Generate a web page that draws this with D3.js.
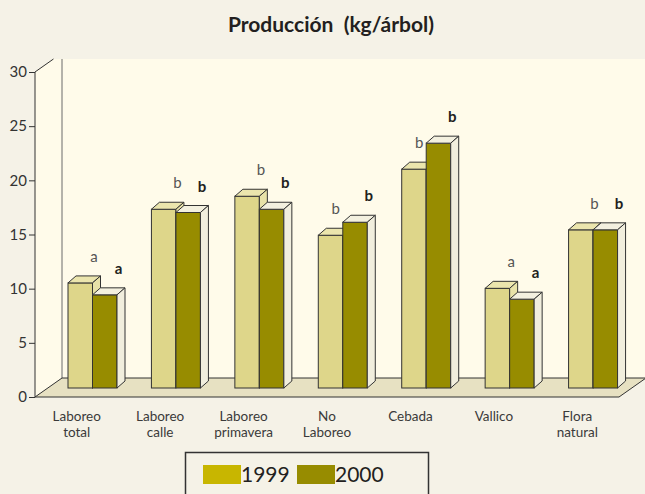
<!DOCTYPE html>
<html>
<head>
<meta charset="utf-8">
<title>Producción (kg/árbol)</title>
<script src="https://d3js.org/d3.v7.min.js"></script>
<style>
  body { margin: 0; background: #f5f2e7; }
  svg { display: block; font-family: Lato, "Open Sans", sans-serif; }
</style>
</head>
<body>
<script>
// chart data
const categories = [["Laboreo", "total"], ["Laboreo", "calle"], ["Laboreo", "primavera"],
                    ["No", "Laboreo"], ["Cebada"], ["Vallico"], ["Flora", "natural"]];
const series = ["1999", "2000"];
const values1999 = [9.7, 16.5, 17.7, 14.1, 20.2, 9.2, 14.6];
const values2000 = [8.6, 16.2, 16.5, 15.3, 22.6, 8.2, 14.6];
const letters1999 = ["a", "b", "b", "b", "b", "a", "b"];
const letters2000 = ["a", "b", "b", "b", "b", "a", "b"];
const yTicks = [0, 5, 10, 15, 20, 25, 30];

const width = 645, height = 494;
const depth = {dx: 27, dy: 19};      // floor depth
const bar = {dx: 8, dy: 7};          // bar top/side depth

const svg = d3.select("body").append("svg")
    .attr("width", width)
    .attr("height", height);

svg.append("rect").attr("width", width).attr("height", height).attr("fill", "#f5f2e7");

// title
svg.append("text")
    .attr("x", 331).attr("y", 32)
    .attr("text-anchor", "middle")
    .style("white-space", "pre")
    .attr("font-size", 21).attr("font-weight", "bold").attr("fill", "#231f20")
    .text("Producción  (kg/árbol)");

const keys = categories.map((c, i) => "c" + i);
const x = d3.scaleBand().domain(keys).range([35, 619]);
const y = d3.scaleLinear().domain([0, 30]).range([397, 72]);
const xs = d3.scaleBand().domain(series).range([0, 49]);

const x0 = x.range()[0], y0 = y(0), yTop = y(30) - 13;
const xTopCorner = x0 + (y(30) - yTop) * depth.dx / depth.dy;

// side wall
svg.append("path")
    .attr("d", `M${x0},${y0}L${x0 + depth.dx},${y0 - depth.dy}L${x0 + depth.dx},${yTop}` +
               `L${xTopCorner},${yTop}L${x0},${y(30)}Z`)
    .attr("fill", "#fffbea");
// back wall
svg.append("rect")
    .attr("x", x0 + depth.dx).attr("y", yTop)
    .attr("width", width - x0 - depth.dx).attr("height", y0 - depth.dy - yTop)
    .attr("fill", "#fffbea");
// floor
const xr = x.range()[1];
svg.append("path")
    .attr("d", `M${x0},${y0}L${x0 + depth.dx},${y0 - depth.dy}L${xr + depth.dx},${y0 - depth.dy}L${xr},${y0}Z`)
    .attr("fill", "#e7e1c2");
// floor / wall edges
svg.append("path")
    .attr("d", `M${x0 + depth.dx},${yTop}L${x0 + depth.dx},${y0 - depth.dy}`)
    .attr("stroke", "#6b6b6b").attr("fill", "none");
svg.append("path")
    .attr("d", `M${x0 + depth.dx},${y0 - depth.dy}L${width},${y0 - depth.dy}`)
    .attr("stroke", "#333").attr("fill", "none");
svg.append("path")
    .attr("d", `M${x0},${y0}L${xr},${y0}L${xr + depth.dx},${y0 - depth.dy}`)
    .attr("stroke", "#333").attr("fill", "none");
svg.append("path")
    .attr("d", `M${x0},${y(30)}L${xTopCorner},${yTop}`)
    .attr("stroke", "#333").attr("fill", "none");
svg.append("path")
    .attr("d", `M${x0},${y0}L${x0 + depth.dx},${y0 - depth.dy}`)
    .attr("stroke", "#333").attr("fill", "none");

// y axis
const yAxis = svg.append("g")
    .attr("transform", `translate(${x0},0)`)
    .call(d3.axisLeft(y).tickValues(yTicks).tickSize(6).tickPadding(2));
yAxis.select(".domain").attr("stroke", "#333").attr("d", `M0,${y(30)}V${y0}`);
yAxis.selectAll(".tick line").attr("stroke", "#333");
yAxis.selectAll(".tick text").attr("font-size", 15).attr("fill", "#333")
    .attr("font-family", "Lato, sans-serif");

// bars (placed in the middle of the floor depth)
const mid = {dx: depth.dx / 2, dy: 9};
const styles = {
  "1999": {front: "#ded68a", top: "#ebe5ad", side: "#e8e2a8"},
  "2000": {front: "#978c00", top: "#f3f0df", side: "#f1eedd"}
};
const rows = [];
keys.forEach((k, i) => {
  rows.push({key: k, s: "1999", v: values1999[i], other: values2000[i], letter: letters1999[i]});
  rows.push({key: k, s: "2000", v: values2000[i], other: values1999[i], letter: letters2000[i]});
});
const barX = d => x(d.key) + 19.5 + mid.dx + xs(d.s);
const barTop = d => y(d.v) - mid.dy;

const bars = svg.append("g").selectAll("g").data(rows).join("g");
bars.each(function(d) {
  const g = d3.select(this);
  const bx = barX(d);
  const bw = xs.bandwidth();
  const by = barTop(d), bb = y0 - mid.dy;
  const st = styles[d.s];
  g.append("rect").attr("x", bx).attr("y", by).attr("width", bw).attr("height", bb - by)
      .attr("fill", st.front).attr("stroke", "#333").attr("stroke-width", 1);
  g.append("path")
      .attr("d", `M${bx},${by}L${bx + bar.dx},${by - bar.dy}L${bx + bw + bar.dx},${by - bar.dy}L${bx + bw},${by}Z`)
      .attr("fill", st.top).attr("stroke", "#333").attr("stroke-width", 1);
  g.append("path")
      .attr("d", `M${bx + bw},${by}L${bx + bw + bar.dx},${by - bar.dy}L${bx + bw + bar.dx},${bb - bar.dy}L${bx + bw},${bb}Z`)
      .attr("fill", st.side).attr("stroke", "#333").attr("stroke-width", 1);
});

// significance letters, drawn on top of the bars
svg.append("g").selectAll("text").data(rows).join("text")
    .attr("x", d => {
      // a 1999 letter sits left of a taller 2000 bar
      if (d.s === "1999" && d.other > d.v) return barX(d) + xs.bandwidth() - 7;
      return barX(d) + 26;
    })
    .attr("y", d => barTop(d) - 21)
    .attr("text-anchor", "middle")
    .attr("font-size", 15)
    .attr("font-weight", d => d.s === "2000" ? "bold" : "normal")
    .attr("fill", d => d.s === "2000" ? "#231f20" : "#555")
    .text(d => d.letter);

// category labels, one text per line
const labelGroups = svg.append("g").selectAll("g").data(keys).join("g");
labelGroups.each(function(d, i) {
  d3.select(this).selectAll("text").data(categories[i]).join("text")
      .attr("x", x(d) + x.bandwidth() / 2)
      .attr("y", (t, j) => 421 + j * 16)
      .attr("text-anchor", "middle")
      .attr("font-size", 13.5).attr("fill", "#3a3a3a")
      .text(t => t);
});

// legend
const legend = svg.append("g");
legend.append("rect")
    .attr("x", 185.5).attr("y", 452.5).attr("width", 243).attr("height", 60)
    .attr("fill", "#f5f2e7").attr("stroke", "#333").attr("stroke-width", 1.5);
const legendColors = {"1999": "#c8b600", "2000": "#978c00"};
const lx = d3.scalePoint().domain(series).range([203, 297]);
series.forEach(s => {
  legend.append("rect").attr("x", lx(s)).attr("y", 465).attr("width", 38).attr("height", 19)
      .attr("fill", legendColors[s]);
  legend.append("text").attr("x", lx(s) + 38).attr("y", 482)
      .attr("font-size", 21).attr("fill", "#231f20").text(s);
});
</script>
</body>
</html>
